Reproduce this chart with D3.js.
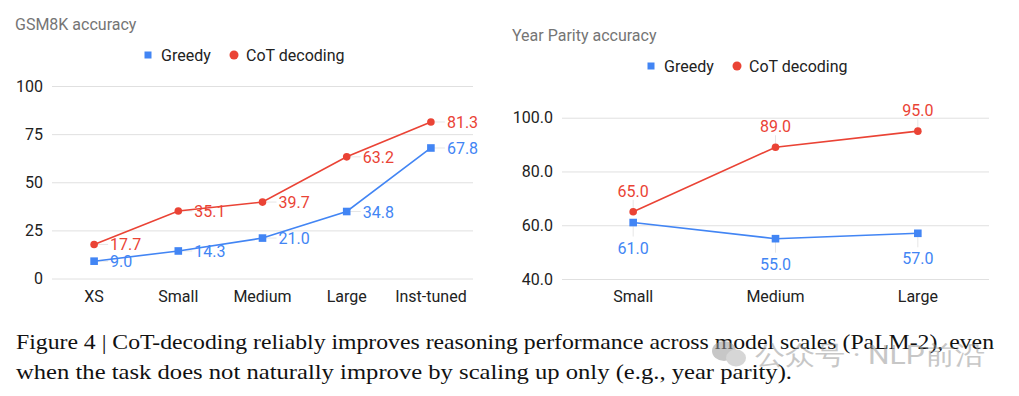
<!DOCTYPE html>
<html lang="en">
<head>
<meta charset="utf-8">
<title>CoT decoding accuracy</title>
<script src="https://d3js.org/d3.v7.min.js"></script>
<style>
  body { margin: 0; background: #fff; }
  svg text { font-family: Roboto, "Liberation Sans", sans-serif; }
  .grid line { stroke: #e0e0e0; stroke-width: 1; }
  .caption { font-family: "Liberation Serif", "DejaVu Serif", serif !important; fill: #111; }
</style>
</head>
<body>
<script>
// ---- data ----
var gsmCats = ["XS", "Small", "Medium", "Large", "Inst-tuned"];
var gsmGreedy = [9.0, 14.3, 21.0, 34.8, 67.8];
var gsmCot = [17.7, 35.1, 39.7, 63.2, 81.3];
var gsmTicks = [0, 25, 50, 75, 100];

var yearCats = ["Small", "Medium", "Large"];
var yearGreedy = [61.0, 55.0, 57.0];
var yearCot = [65.0, 89.0, 95.0];
var yearTicks = [40, 60, 80, 100];

var seriesNames = ["Greedy", "CoT decoding"];
var captionLines = [
  "Figure 4 | CoT-decoding reliably improves reasoning performance across model scales (PaLM-2), even",
  "when the task does not naturally improve by scaling up only (e.g., year parity)."
];

var blue = "#4285f4", red = "#ea4335";

var w = 1019, h = 396;
var svg = d3.select("body").append("svg").attr("width", w).attr("height", h);

// draws one panel
function panel(opt) {
  var x = d3.scaleBand().domain(opt.cats).range(opt.xr);
  var y = d3.scaleLinear().domain(opt.dom).range(opt.yr);
  var g = svg.append("g");

  // title
  g.append("text").attr("x", opt.titleX).attr("y", opt.titleY)
    .attr("font-size", "16px").attr("fill", "#757575").text(opt.title);

  // legend
  g.append("rect").attr("x", opt.legX - 3.5).attr("y", opt.legY - 3.5)
    .attr("width", 7).attr("height", 7).attr("fill", blue);
  g.append("text").attr("x", opt.legX + 13).attr("y", opt.legY + 5.5)
    .attr("font-size", "16px").attr("fill", "#222").text(seriesNames[0]);
  g.append("circle").attr("cx", opt.legX + 86).attr("cy", opt.legY).attr("r", 4.5).attr("fill", red);
  g.append("text").attr("x", opt.legX + 98).attr("y", opt.legY + 5.5)
    .attr("font-size", "16px").attr("fill", "#222").text(seriesNames[1]);

  // grid + y ticks
  var yAxis = d3.axisLeft(y).tickValues(opt.ticks).tickSize(-(opt.xr[1] - opt.xr[0]))
    .tickPadding(9).tickFormat(opt.fmt);
  var ya = g.append("g").attr("class", "grid").attr("transform", "translate(" + opt.xr[0] + ",0)").call(yAxis);
  ya.select(".domain").remove();
  ya.selectAll("text").attr("font-size", "16px").attr("fill", "#222");
  if (opt.baseDark) {
    ya.selectAll(".tick line").filter(function(d) { return d === opt.dom[0]; })
      .attr("stroke", "#9e9e9e").attr("stroke-width", 1.6);
  }

  // x axis labels
  var xAxis = d3.axisBottom(x).tickSize(0).tickPadding(12);
  var xa = g.append("g").attr("transform", "translate(0," + y(opt.dom[0]) + ")").call(xAxis);
  xa.select(".domain").remove();
  xa.selectAll("text").attr("font-size", "16px").attr("fill", "#222");

  var cx = function(i) { return x(opt.cats[i]) + x.bandwidth() / 2; };
  var line = d3.line().x(function(d, i) { return cx(i); }).y(function(d) { return y(d); });

  [[opt.greedy, blue, "sq", opt.greedyPos], [opt.cot, red, "ci", opt.cotPos]].forEach(function(s) {
    var vals = s[0], col = s[1];
    // leader lines
    g.selectAll(null).data(vals).enter().append("line")
      .attr("x1", function(d, i) { return cx(i); })
      .attr("y1", function(d) { return y(d); })
      .attr("x2", function(d, i) { return s[3] === "right" ? cx(i) + 14 : cx(i); })
      .attr("y2", function(d) { return s[3] === "above" ? y(d) - 12 : s[3] === "below" ? y(d) + 14 : y(d); })
      .attr("stroke", "#e6e6e6").attr("stroke-width", 1);
    g.append("path").datum(vals).attr("d", line).attr("fill", "none")
      .attr("stroke", col).attr("stroke-width", 1.6);
    if (s[2] === "sq") {
      g.selectAll(null).data(vals).enter().append("rect")
        .attr("x", function(d, i) { return cx(i) - 3.8; })
        .attr("y", function(d) { return y(d) - 3.8; })
        .attr("width", 7.6).attr("height", 7.6).attr("fill", col);
    } else {
      g.selectAll(null).data(vals).enter().append("circle")
        .attr("cx", function(d, i) { return cx(i); })
        .attr("cy", function(d) { return y(d); })
        .attr("r", 3.8).attr("fill", col);
    }
    g.selectAll(null).data(vals).enter().append("text")
      .attr("x", function(d, i) { return s[3] === "right" ? cx(i) + 16 : cx(i); })
      .attr("y", function(d) {
        if (s[3] === "above") return y(d) - 15;
        if (s[3] === "below") return y(d) + 31;
        return y(d) + 6;
      })
      .attr("text-anchor", s[3] === "right" ? "start" : "middle")
      .attr("font-size", "16px").attr("fill", col)
      .text(function(d) { return d3.format(".1f")(d); });
  });
}

panel({
  cats: gsmCats, greedy: gsmGreedy, cot: gsmCot, ticks: gsmTicks,
  dom: [0, 100], xr: [52, 473], yr: [278.5, 86],
  fmt: d3.format("d"), baseDark: true,
  title: "GSM8K accuracy", titleX: 15, titleY: 30,
  legX: 148, legY: 55, greedyPos: "right", cotPos: "right"
});

panel({
  cats: yearCats, greedy: yearGreedy, cot: yearCot, ticks: yearTicks,
  dom: [40, 100], xr: [562, 989], yr: [279, 117.7],
  fmt: d3.format(".1f"), baseDark: false,
  title: "Year Parity accuracy", titleX: 512, titleY: 41,
  legX: 651, legY: 66, greedyPos: "below", cotPos: "above"
});

// caption
svg.selectAll(".caption").data(captionLines).enter().append("text")
  .attr("class", "caption")
  .attr("x", 16)
  .attr("y", function(d, i) { return 349 + i * 30; })
  .attr("font-size", "21px")
  .attr("textLength", function(d, i) { return i === 0 ? 978 : 776; })
  .attr("lengthAdjust", "spacingAndGlyphs")
  .text(function(d) { return d; });

// watermark
var wm = svg.append("g").attr("opacity", 0.55);
wm.append("ellipse").attr("cx", 724).attr("cy", 351).attr("rx", 12).attr("ry", 10).attr("fill", "#9a9a9a");
wm.append("ellipse").attr("cx", 736).attr("cy", 358).attr("rx", 10).attr("ry", 8.5).attr("fill", "#b5b5b5");
wm.append("text").attr("x", 755).attr("y", 364)
  .attr("font-family", "'Noto Sans CJK SC', sans-serif")
  .attr("font-size", "26px").attr("fill", "#9a9a9a")
  .attr("textLength", 230).attr("lengthAdjust", "spacingAndGlyphs")
  .text("公众号 · NLP前沿");
</script>
</body>
</html>
